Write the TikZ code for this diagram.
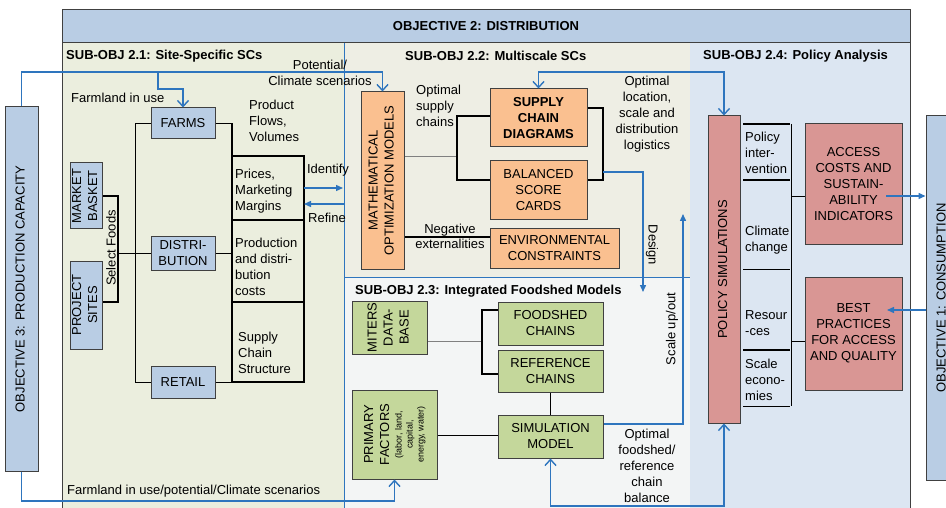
\documentclass[tikz,border=0pt]{standalone}
\usepackage{fontspec}
\setmainfont{Liberation Sans}
\usepackage{graphicx}
\usetikzlibrary{arrows.meta,calc}
\definecolor{hdrblue}{RGB}{185,205,228}
\definecolor{bgA}{RGB}{235,238,222}
\definecolor{bgB}{RGB}{238,238,228}
\definecolor{bgC}{RGB}{243,245,245}
\definecolor{bgD}{RGB}{220,230,242}
\definecolor{orng}{RGB}{250,192,144}
\definecolor{grn}{RGB}{196,215,155}
\definecolor{rose}{RGB}{217,150,148}
\definecolor{lnblue}{RGB}{46,117,190}
\definecolor{boxgray}{RGB}{64,64,64}
\newcommand{\dfont}{\fontsize{13}{16}\selectfont}
\newcommand{\rotxt}[2][90]{\rotatebox{#1}{\begin{tabular}{@{}c@{}}#2\end{tabular}}}
\tikzset{
  every node/.style={font=\dfont, inner sep=0pt},
  box/.style={draw=boxgray, line width=1pt, align=center, inner sep=0pt},
  bluebox/.style={box, fill=hdrblue},
  orbox/.style={box, fill=orng},
  grbox/.style={box, fill=grn},
  rsbox/.style={box, fill=rose},
  ttl/.style={font=\dfont\bfseries, anchor=west},
  ltxt/.style={align=left, anchor=west},
  ctxt/.style={align=center},
  bl/.style={draw=lnblue, line width=1.4pt},
  thk/.style={draw=black, line width=1.8pt},
  thn/.style={draw=black, line width=0.9pt},
  gry/.style={draw=gray, line width=0.9pt},
  vtip/.tip={Straight Barb[length=6pt,width=11pt]},
  ftip/.tip={Triangle[length=7pt,width=6pt]}
}
\begin{document}
\begin{tikzpicture}[x=1pt,y=-1pt]
\useasboundingbox (0,0) rectangle (946,508);
\clip (0,0) rectangle (946,508);
\fill[white] (0,0) rectangle (946,508);
% section backgrounds
\fill[bgA] (62,43) rectangle (344,515);
\fill[bgB] (344,43) rectangle (690,277);
\fill[bgC] (344,277) rectangle (690,515);
\fill[bgD] (690,43) rectangle (910,515);
\draw[lnblue, line width=0.8pt] (344,43) -- (344,515);
\draw[lnblue, line width=0.8pt] (344,277) -- (690,277);
\node[draw=boxgray, fill=hdrblue, line width=1pt, minimum width=848pt, minimum height=33pt, font=\dfont\bfseries] (obj2) at (486,26.5) {OBJECTIVE 2: DISTRIBUTION};
\draw[boxgray, line width=1pt] (62,10) rectangle (910,520);
% titles
\node[ttl] (t21) at (66,56) {SUB-OBJ 2.1: Site-Specific SCs};
\node[ttl] (t22) at (405,56) {SUB-OBJ 2.2: Multiscale SCs};
\node[ttl] (t23) at (355,291) {SUB-OBJ 2.3: Integrated Foodshed Models};
\node[ttl] (t24) at (703,56) {SUB-OBJ 2.4: Policy Analysis};
% objective boxes
\node[bluebox, minimum width=33pt, minimum height=364pt] (obj3) at (21.5,289) {\rotxt{OBJECTIVE 3: PRODUCTION CAPACITY}};
\node[bluebox, minimum width=33pt, minimum height=364pt] (obj1) at (942.5,298) {\rotxt{OBJECTIVE 1: CONSUMPTION}};
% 2.1 boxes
\node[bluebox, minimum width=64pt, minimum height=31pt] (farms) at (183,123.5) {FARMS};
\node[bluebox, minimum width=64pt, minimum height=33pt] (distri) at (183,253.5) {DISTRI-\\BUTION};
\node[bluebox, minimum width=64pt, minimum height=32pt] (retail) at (183,382) {RETAIL};
\node[bluebox, minimum width=32pt, minimum height=66pt] (market) at (86,196) {\rotxt{MARKET\\BASKET}};
\node[bluebox, minimum width=32pt, minimum height=88pt] (project) at (86,305) {\rotxt{PROJECT\\SITES}};
% 2.2 boxes
\node[orbox, minimum width=43pt, minimum height=177pt] (math) at (382.5,180.5) {\rotxt{MATHEMATICAL\\OPTIMIZATION MODELS}};
\node[orbox, minimum width=97pt, minimum height=58pt, font=\dfont\bfseries] (scd) at (538.5,118) {SUPPLY\\CHAIN\\DIAGRAMS};
\node[orbox, minimum width=97pt, minimum height=59pt] (bsc) at (538.5,190.5) {BALANCED\\SCORE\\CARDS};
\node[orbox, minimum width=129pt, minimum height=39pt] (env) at (554.5,248.5) {ENVIRONMENTAL\\CONSTRAINTS};
% 2.3 boxes
\node[grbox, minimum width=75pt, minimum height=53pt] (miters) at (389.5,327.5) {\rotxt{MITERS\\DATA-\\BASE}};
\node[grbox, minimum width=105pt, minimum height=43pt] (foodshed) at (550.5,323.5) {FOODSHED\\CHAINS};
\node[grbox, minimum width=105pt, minimum height=42pt] (reference) at (550.5,371) {REFERENCE\\CHAINS};
\node[grbox, minimum width=105pt, minimum height=43pt] (sim) at (550.5,436.5) {SIMULATION\\MODEL};
\node[grbox, minimum width=85pt, minimum height=89pt] (primary) at (394.5,434.5) {\rotxt{PRIMARY\\FACTORS\\{\fontsize{9}{11}\selectfont\begin{tabular}{@{}c@{}}(labor, land,\\capital,\\energy, water)\end{tabular}}}};
% 2.4 boxes
\node[rsbox, minimum width=32pt, minimum height=307pt] (policy) at (724,269.5) {\rotxt{POLICY SIMULATIONS}};
\node[rsbox, minimum width=97pt, minimum height=120pt] (access) at (853.5,184) {ACCESS\\COSTS AND\\SUSTAIN-\\ABILITY\\INDICATORS};
\node[rsbox, minimum width=97pt, minimum height=113pt] (best) at (853.5,333.5) {BEST\\PRACTICES\\FOR ACCESS\\AND QUALITY};
% 2.1 lines and table
\draw[thn] (farms.west) -- (135,123.5) -- (135,382) -- (retail.west);
\draw[thn] (118,253.5) -- (distri.west);
\draw[thk] (market.east |- 0,196) -- (118,196) -- (118,302) -- (project.east |- 0,302);
\draw[thk] (farms.east) -- (232,123.5) -- (232,156);
\draw[thk] (232,156) rectangle (304,382);
\draw[thk] (232,220) -- (304,220);
\draw[thk] (232,302) -- (304,302);
\draw[thn] (distri.east) -- (232,253.5);
\draw[thn] (retail.east) -- (232,382);
\node[rotate=90] (selfood) at (111,248) {Select Foods};
\node[ltxt] (prices) at (235,191.5) {Prices,\\Marketing\\Margins};
\node[ltxt] (prodc) at (235,266.5) {Production\\and distri-\\bution\\costs};
\node[ltxt] (scs) at (238,353) {Supply\\Chain\\Structure};
\node[ltxt] (pfv) at (249,121) {Product\\Flows,\\Volumes};
\node[ltxt] (fiu) at (71,98) {Farmland in use};
\node[ltxt] (fiu2) at (67,491) {Farmland in use/potential/Climate scenarios};
\node[ctxt] (potc) at (320,72.5) {Potential/\\Climate scenarios};
\node (ident) at (328,170) {Identify};
\node (refine) at (327,218) {Refine};
\coordinate (idL) at (304,188);
\coordinate (idR) at (343,188);
\coordinate (rfL) at (304,204);
\coordinate (rfR) at (344,204);
\draw[bl, -{ftip}] (idL) -- (idR);
\draw[bl, -{ftip}] (rfR) -- (rfL);
% blue lines from objective 3
\coordinate (jf) at (158,72);
\draw[bl, -{vtip}] (obj3.north) -- (obj3.north |- 0,72) -- (math.north |- 0,72) -- (math.north);
\draw[bl, -{vtip}] (jf) -- (158,89) -- (farms.north |- 0,89) -- (farms.north);
\draw[bl, -{vtip}] (obj3.south) -- (obj3.south |- 0,501) -- (primary.south |- 0,501) -- (primary.south);
% 2.2 lines
\draw[gry] (math.east |- 0,156) -- (457,156);
\draw[thk] (scd.west |- 0,116) -- (457,116) -- (457,180) -- (bsc.west |- 0,180);
\draw[thk] (scd.east |- 0,108) -- (603,108) -- (603,180) -- (bsc.east |- 0,180);
\draw[thk] (math.east |- 0,237) -- (env.west |- 0,237);
\node[ltxt] (osc) at (416,105.5) {Optimal\\supply\\chains};
\node[ctxt] (olsd) at (647,114) {Optimal\\location,\\scale and\\distribution\\logistics};
\node[ctxt, font=\fontsize{13}{15}\selectfont] (negx) at (450,236) {Negative\\externalities};
\coordinate (dsA) at (603,172);
\coordinate (dsB) at (643,292);
\draw[bl, -{ftip}] (dsA) -- (643,172) -- (dsB);
\node[rotate=-90] (design) at (652,245) {Design};
\draw[bl, {vtip}-{vtip}] (scd.north) -- (scd.north |- 0,72) -- (policy.north |- 0,72) -- (policy.north);
% 2.3 lines
\draw[gry] (miters.east |- 0,341) -- (482,341);
\draw[thk] (foodshed.west |- 0,310) -- (482,310) -- (482,374) -- (reference.west |- 0,374);
\draw[thn] (reference.south) -- (sim.north);
\draw[thn] (primary.east |- 0,435) -- (sim.west |- 0,435);
\coordinate (suo) at (683,214);
\draw[bl, -{ftip}] (sim.east |- 0,424) -- (683,424) -- (suo);
\node[rotate=90] (scaleup) at (672,329) {Scale up/out};
\node[ctxt] (ofrc) at (647,466) {Optimal\\foodshed/\\reference\\chain\\balance};
\draw[bl, {vtip}-{vtip}] (sim.south) -- (sim.south |- 0,506) -- (policy.south |- 0,506) -- (policy.south);
% 2.4 side table
\draw[thk] (743,124) -- (790,124);
\draw[thk] (743,180) -- (790,180);
\draw[thn] (743,269) -- (790,269);
\draw[thk] (743,350) -- (790,350);
\draw[thn] (743,406) -- (790,406);
\draw[thn] (791,124) -- (791,406);
\draw[thn] (791,196) -- (access.west |- 0,196);
\draw[thn] (791,341) -- (best.west |- 0,341);
\node[ltxt] (pint) at (745,153) {Policy\\inter-\\vention};
\node[ltxt] (clim) at (745,240) {Climate\\change};
\node[ltxt] (reso) at (745,323.5) {Resour\\-ces};
\node[ltxt] (scec) at (745,380) {Scale\\econo-\\mies};
\coordinate (acA) at (886,196);
\coordinate (bpA) at (887,310);
\draw[bl, -{ftip}] (acA) -- (obj1.west |- 0,196);
\draw[bl, -{ftip}] (obj1.west |- 0,310) -- (bpA);
\end{tikzpicture}
\end{document}
